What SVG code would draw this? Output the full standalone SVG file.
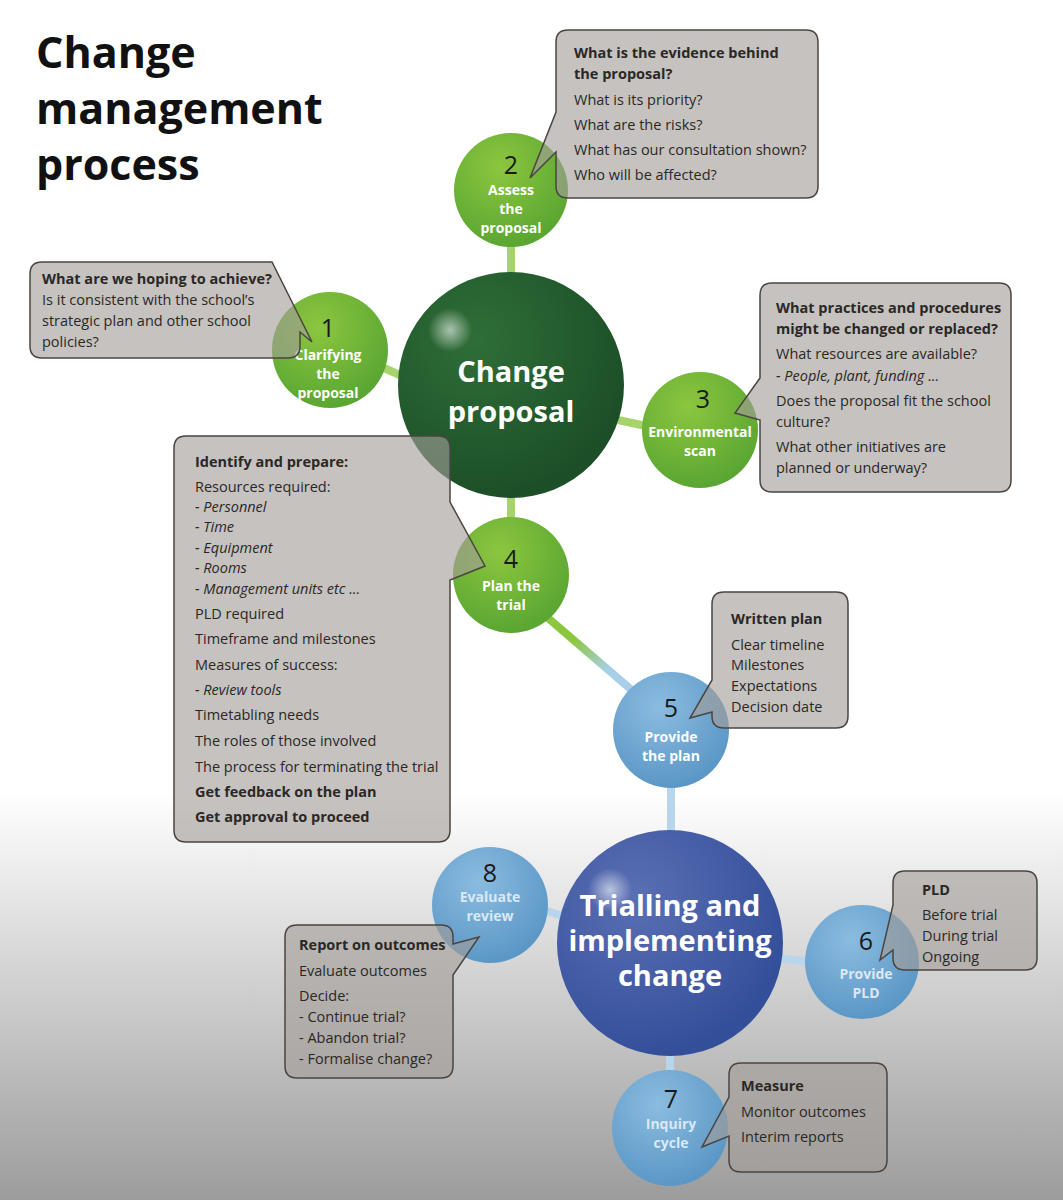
<svg xmlns="http://www.w3.org/2000/svg" width="1063" height="1200" viewBox="0 0 1063 1200">
<defs>
<linearGradient id="bg" x1="0" y1="0" x2="0" y2="1"><stop offset="0.66" stop-color="#ffffff"/><stop offset="1" stop-color="#9c9c9c"/></linearGradient>
<radialGradient id="gBig" cx="0.35" cy="0.3" r="0.7"><stop offset="0" stop-color="#2f6e38"/><stop offset="1" stop-color="#1c4f27"/></radialGradient>
<radialGradient id="gSm" cx="0.4" cy="0.3" r="0.7"><stop offset="0" stop-color="#8cc63f"/><stop offset="1" stop-color="#5aa632"/></radialGradient>
<radialGradient id="bBig" cx="0.35" cy="0.3" r="0.7"><stop offset="0" stop-color="#5a6fb4"/><stop offset="1" stop-color="#344f9a"/></radialGradient>
<radialGradient id="bSm" cx="0.4" cy="0.3" r="0.7"><stop offset="0" stop-color="#8bbce0"/><stop offset="1" stop-color="#5b97c6"/></radialGradient>
<radialGradient id="hl" cx="0.5" cy="0.5" r="0.5"><stop offset="0" stop-color="#fff" stop-opacity="0.6"/><stop offset="1" stop-color="#fff" stop-opacity="0"/></radialGradient>
<linearGradient id="l45" x1="0" y1="0" x2="1" y2="1"><stop offset="0.3" stop-color="#8cc63f"/><stop offset="0.7" stop-color="#a9cfe8"/></linearGradient>
</defs>
<style>
text{font-family:"Open Sans","Liberation Sans",sans-serif}
.t{font-size:14.5px;fill:#2a2826}
.b{font-weight:bold}
.i{font-style:italic}
.co{fill:#a39d97;fill-opacity:0.62;stroke:#4a4540;stroke-width:1.5}
.lbl{font-size:14px;font-weight:bold;fill:#fff;text-anchor:middle}
.lblb{font-size:14px;font-weight:bold;fill:#dbe8f3;text-anchor:middle}
.num{font-size:25px;fill:#1a1a1a;text-anchor:middle}
.big{font-size:29px;font-weight:bold;fill:#fff;text-anchor:middle}
.cg{stroke:#a6d36a;stroke-width:8}
.cb{stroke:#b7d6ec;stroke-width:8}
</style>
<rect width="1063" height="1200" fill="url(#bg)"/>
<text x="36" y="68" font-size="43" font-weight="bold" fill="#111">Change</text>
<text x="36" y="124" font-size="43" font-weight="bold" fill="#111">management</text>
<text x="36" y="180" font-size="43" font-weight="bold" fill="#111">process</text>

<g id="connectors">
<line class="cg" x1="511" y1="245" x2="511" y2="275"/>
<line class="cg" x1="384" y1="368" x2="402" y2="376"/>
<line class="cg" x1="618" y1="420" x2="646" y2="426"/>
<line class="cg" x1="511" y1="496" x2="511" y2="520"/>
<line stroke="url(#l45)" stroke-width="8" x1="548" y1="618" x2="634" y2="692"/>
<line class="cb" x1="671" y1="786" x2="671" y2="832"/>
<line class="cb" x1="544" y1="910" x2="562" y2="916"/>
<line class="cb" x1="778" y1="958" x2="808" y2="962"/>
<line class="cb" x1="670" y1="1052" x2="670" y2="1072"/>
</g>

<g id="change-proposal"><circle cx="511" cy="385" r="113" fill="url(#gBig)"/><circle cx="450" cy="330" r="22" fill="url(#hl)"/>
<text class="big" x="511" y="382">Change</text><text class="big" x="511" y="422">proposal</text></g>
<g id="n2"><circle cx="511" cy="190" r="57" fill="url(#gSm)"/><text class="num" x="511" y="174">2</text><text class="lbl" x="511" y="195">Assess</text><text class="lbl" x="511" y="214">the</text><text class="lbl" x="511" y="233">proposal</text></g>
<g id="n1"><circle cx="330" cy="350" r="58" fill="url(#gSm)"/><text class="num" x="328" y="337">1</text><text class="lbl" x="328" y="360">Clarifying</text><text class="lbl" x="328" y="379">the</text><text class="lbl" x="328" y="398">proposal</text></g>
<g id="n3"><circle cx="700" cy="430" r="58" fill="url(#gSm)"/><text class="num" x="703" y="408">3</text><text class="lbl" x="700" y="437">Environmental</text><text class="lbl" x="700" y="456">scan</text></g>
<g id="n4"><circle cx="511" cy="575" r="58" fill="url(#gSm)"/><text class="num" x="511" y="568">4</text><text class="lbl" x="511" y="591">Plan the</text><text class="lbl" x="511" y="610">trial</text></g>
<g id="n5"><circle cx="671" cy="730" r="58" fill="url(#bSm)"/><text class="num" x="671" y="717">5</text><text class="lbl" x="671" y="742">Provide</text><text class="lbl" x="671" y="761">the plan</text></g>

<g id="trialling"><circle cx="670" cy="943" r="113" fill="url(#bBig)"/><circle cx="610" cy="890" r="22" fill="url(#hl)"/>
<text class="big" x="670" y="916" font-size="24">Trialling and</text><text class="big" x="670" y="951" font-size="24">implementing</text><text class="big" x="670" y="986" font-size="24">change</text></g>
<g id="n8"><circle cx="490" cy="905" r="58" fill="url(#bSm)"/><text class="num" x="490" y="882">8</text><text class="lblb" x="490" y="902">Evaluate</text><text class="lblb" x="490" y="921">review</text></g>
<g id="n6"><circle cx="862" cy="962" r="57" fill="url(#bSm)"/><text class="num" x="866" y="950">6</text><text class="lblb" x="866" y="979">Provide</text><text class="lblb" x="866" y="998">PLD</text></g>
<g id="n7"><circle cx="670" cy="1128" r="58" fill="url(#bSm)"/><text class="num" x="671" y="1108">7</text><text class="lblb" x="671" y="1129">Inquiry</text><text class="lblb" x="671" y="1148">cycle</text></g>

<g id="c2"><path class="co" d="M568,30 H806 Q818,30 818,42 V186 Q818,198 806,198 H568 Q556,198 556,186 V152 L530,178 L556,112 V42 Q556,30 568,30 Z"/>
<text class="t b" x="574" y="58">What is the evidence behind</text><text class="t b" x="574" y="79">the proposal?</text>
<text class="t" x="574" y="105">What is its priority?</text><text class="t" x="574" y="130">What are the risks?</text><text class="t" x="574" y="155">What has our consultation shown?</text><text class="t" x="574" y="180">Who will be affected?</text></g>

<g id="c1"><path class="co" d="M42,262 H272 L312,342 L300,332 V346 Q300,358 288,358 H42 Q30,358 30,346 V274 Q30,262 42,262 Z"/>
<text class="t b" x="42" y="284">What are we hoping to achieve?</text><text class="t" x="42" y="305">Is it consistent with the school’s</text><text class="t" x="42" y="326">strategic plan and other school</text><text class="t" x="42" y="347">policies?</text></g>

<g id="c3"><path class="co" d="M772,283 H999 Q1011,283 1011,295 V480 Q1011,492 999,492 H772 Q760,492 760,480 V420 L735,413 L760,378 V295 Q760,283 772,283 Z"/>
<text class="t b" x="776" y="313">What practices and procedures</text><text class="t b" x="776" y="334">might be changed or replaced?</text>
<text class="t" x="776" y="359">What resources are available?</text><text class="t i" x="776" y="381">- People, plant, funding ...</text>
<text class="t" x="776" y="406">Does the proposal fit the school</text><text class="t" x="776" y="427">culture?</text>
<text class="t" x="776" y="452">What other initiatives are</text><text class="t" x="776" y="473">planned or underway?</text></g>

<g id="c4"><path class="co" d="M186,436 H438 Q450,436 450,448 V502 L485,566 L450,580 V830 Q450,842 438,842 H186 Q174,842 174,830 V448 Q174,436 186,436 Z"/>
<text class="t b" x="195" y="467">Identify and prepare:</text>
<text class="t" x="195" y="492">Resources required:</text>
<text class="t i" x="195" y="512">- Personnel</text><text class="t i" x="195" y="532">- Time</text><text class="t i" x="195" y="553">- Equipment</text><text class="t i" x="195" y="573">- Rooms</text><text class="t i" x="195" y="594">- Management units etc ...</text>
<text class="t" x="195" y="619">PLD required</text><text class="t" x="195" y="644">Timeframe and milestones</text><text class="t" x="195" y="670">Measures of success:</text>
<text class="t i" x="195" y="695">- Review tools</text><text class="t" x="195" y="720">Timetabling needs</text><text class="t" x="195" y="746">The roles of those involved</text><text class="t" x="195" y="772">The process for terminating the trial</text>
<text class="t b" x="195" y="797">Get feedback on the plan</text><text class="t b" x="195" y="822">Get approval to proceed</text></g>

<g id="c5"><path class="co" d="M724,592 H836 Q848,592 848,604 V716 Q848,728 836,728 H724 Q712,728 712,716 V712 L690,718 L712,680 V604 Q712,592 724,592 Z"/>
<text class="t b" x="731" y="624">Written plan</text><text class="t" x="731" y="650">Clear timeline</text><text class="t" x="731" y="670">Milestones</text><text class="t" x="731" y="691">Expectations</text><text class="t" x="731" y="712">Decision date</text></g>

<g id="c6"><path class="co" d="M905,871 H1025 Q1037,871 1037,883 V958 Q1037,970 1025,970 H905 Q893,970 893,958 V950 L880,960 L893,905 V883 Q893,871 905,871 Z"/>
<text class="t b" x="922" y="895">PLD</text><text class="t" x="922" y="920">Before trial</text><text class="t" x="922" y="941">During trial</text><text class="t" x="922" y="962">Ongoing</text></g>

<g id="c8"><path class="co" d="M297,925 H441 Q453,925 453,937 V944 L479,937 L453,975 V1066 Q453,1078 441,1078 H297 Q285,1078 285,1066 V937 Q285,925 297,925 Z"/>
<text class="t b" x="299" y="950">Report on outcomes</text><text class="t" x="299" y="976">Evaluate outcomes</text><text class="t" x="299" y="1001">Decide:</text>
<text class="t" x="299" y="1022">- Continue trial?</text><text class="t" x="299" y="1043">- Abandon trial?</text><text class="t" x="299" y="1064">- Formalise change?</text></g>

<g id="c7"><path class="co" d="M741,1063 H875 Q887,1063 887,1075 V1160 Q887,1172 875,1172 H741 Q729,1172 729,1160 V1136 L702,1147 L729,1097 V1075 Q729,1063 741,1063 Z"/>
<text class="t b" x="741" y="1091">Measure</text><text class="t" x="741" y="1117">Monitor outcomes</text><text class="t" x="741" y="1142">Interim reports</text></g>
</svg>
